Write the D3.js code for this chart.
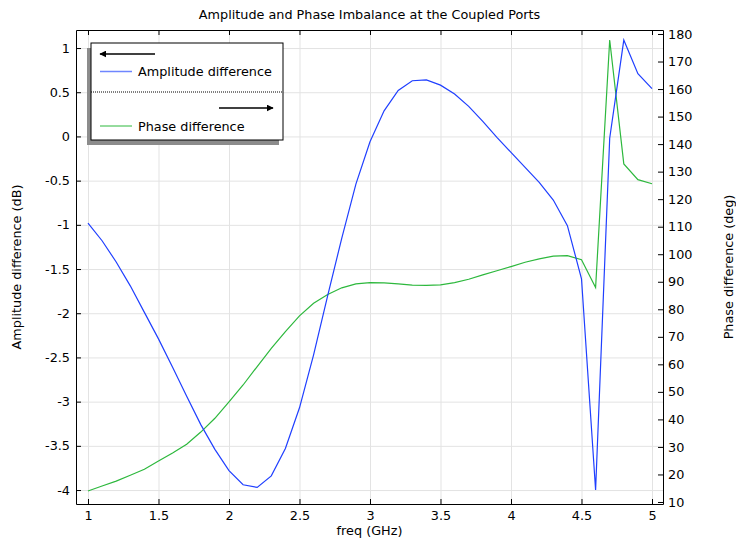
<!DOCTYPE html>
<html>
<head>
<meta charset="utf-8">
<script src="https://cdn.jsdelivr.net/npm/d3@7"></script>
<style>
  body { margin: 0; background: #fff; }
  text { font-family: "DejaVu Sans", sans-serif; fill: #000; }
  .grid line { stroke: #e3e3e3; stroke-width: 1; }
  .grid path { display: none; }
  .axis path, .axis line { stroke: #000; }
  .axis text { font-size: 12.8px; }
</style>
</head>
<body>
<div id="chart"></div>
<script>
//frequency samples (GHz)
var freq = [1.0,1.1,1.2,1.3,1.4,1.5,1.6,1.7,1.8,1.9,2.0,2.1,2.2,2.3,2.4,2.5,2.6,2.7,2.8,2.9,3.0,
            3.1,3.2,3.3,3.4,3.5,3.6,3.7,3.8,3.9,4.0,4.1,4.2,4.3,4.4,4.5,4.6,4.7,4.8,4.9,5.0];

//amplitude difference (dB), left axis
var ampDiff = [-0.98,-1.18,-1.42,-1.69,-1.99,-2.29,-2.61,-2.94,-3.26,-3.54,-3.78,-3.94,-3.97,-3.84,-3.53,-3.07,
               -2.47,-1.80,-1.15,-0.54,-0.06,0.29,0.52,0.63,0.64,0.58,0.48,0.34,0.17,-0.01,-0.18,-0.35,-0.52,
               -0.72,-1.01,-1.61,-4.00,-0.02,1.09,0.71,0.54];

//phase difference (deg), right axis
var phaseDiff = [14.0,15.8,17.6,19.7,21.9,24.9,27.8,31.0,35.4,40.4,46.4,52.5,59.2,65.8,71.9,77.6,
                 82.2,85.4,87.8,89.2,89.7,89.6,89.2,88.8,88.7,88.9,89.7,90.9,92.5,94.0,95.5,97.1,98.3,
                 99.3,99.5,98.0,87.9,177.8,132.8,127.1,125.6];

//tick values
var xTicks = [1,1.5,2,2.5,3,3.5,4,4.5,5];
var ampTicks = [-4,-3.5,-3,-2.5,-2,-1.5,-1,-0.5,0,0.5,1];
var phaseTicks = [10,20,30,40,50,60,70,80,90,100,110,120,130,140,150,160,170,180];

var legendLabels = ["Amplitude difference", "Phase difference"];

(function(){
  var width = 736, height = 541;
  var margin = {left: 76, top: 30, right: 73, bottom: 37};
  var innerW = width - margin.left - margin.right,
      innerH = height - margin.top - margin.bottom;

  var svg = d3.select("#chart").append("svg")
      .attr("width", width)
      .attr("height", height);

  var g = svg.append("g")
      .attr("transform", "translate(" + margin.left + "," + margin.top + ")");

  var x = d3.scaleLinear().domain([0.915, 5.078]).range([0, innerW]);
  var yAmp = d3.scaleLinear().domain([-4.158, 1.204]).range([innerH, 0]);
  var yPhase = d3.scaleLinear().domain([9.27, 181.45]).range([innerH, 0]);

  var fmt = function(d){ return String(d); };

  //grid lines
  g.append("g").attr("class", "grid")
      .attr("transform", "translate(0," + innerH + ")")
      .call(d3.axisBottom(x).tickValues(xTicks).tickSize(-innerH).tickFormat(""));
  g.append("g").attr("class", "grid")
      .call(d3.axisLeft(yAmp).tickValues(ampTicks).tickSize(-innerW).tickFormat(""));

  //curves
  var ampLine = d3.line()
      .x(function(d, i){ return x(freq[i]); })
      .y(function(d){ return yAmp(d); });
  var phaseLine = d3.line()
      .x(function(d, i){ return x(freq[i]); })
      .y(function(d){ return yPhase(d); });

  g.append("path").datum(phaseDiff)
      .attr("d", phaseLine)
      .attr("fill", "none")
      .attr("stroke", "#2db83d")
      .attr("stroke-width", 1.2);
  g.append("path").datum(ampDiff)
      .attr("d", ampLine)
      .attr("fill", "none")
      .attr("stroke", "#1f3fff")
      .attr("stroke-width", 1.2);

  //axes, ticks pointing inward
  g.append("g").attr("class", "axis")
      .attr("transform", "translate(0," + innerH + ")")
      .call(d3.axisBottom(x).tickValues(xTicks).tickSizeInner(-5).tickSizeOuter(0).tickPadding(7).tickFormat(fmt));
  g.append("g").attr("class", "axis")
      .call(d3.axisTop(x).tickValues(xTicks).tickSizeInner(-5).tickSizeOuter(0).tickFormat(""));
  g.append("g").attr("class", "axis")
      .call(d3.axisLeft(yAmp).tickValues(ampTicks).tickSizeInner(-5).tickSizeOuter(0).tickPadding(6).tickFormat(fmt));
  g.append("g").attr("class", "axis")
      .attr("transform", "translate(" + innerW + ",0)")
      .call(d3.axisRight(yPhase).tickValues(phaseTicks).tickSizeInner(-5).tickSizeOuter(0).tickPadding(5).tickFormat(fmt));

  //title and axis labels
  svg.append("text")
      .attr("x", margin.left + innerW / 2)
      .attr("y", 19)
      .attr("text-anchor", "middle")
      .style("font-size", "12.8px")
      .text("Amplitude and Phase Imbalance at the Coupled Ports");
  svg.append("text")
      .attr("x", margin.left + innerW / 2)
      .attr("y", 535)
      .attr("text-anchor", "middle")
      .style("font-size", "12.8px")
      .text("freq (GHz)");
  svg.append("text")
      .attr("transform", "translate(21," + (margin.top + innerH / 2) + ") rotate(-90)")
      .attr("text-anchor", "middle")
      .style("font-size", "12.8px")
      .text("Amplitude difference (dB)");
  svg.append("text")
      .attr("transform", "translate(733," + (margin.top + innerH / 2) + ") rotate(-90)")
      .attr("text-anchor", "middle")
      .style("font-size", "12.8px")
      .text("Phase difference (deg)");

  //legend
  var defs = svg.append("defs");
  defs.append("marker")
      .attr("id", "arrowhead")
      .attr("viewBox", "0 0 10 10")
      .attr("refX", 9).attr("refY", 5)
      .attr("markerWidth", 7).attr("markerHeight", 7)
      .attr("markerUnits", "userSpaceOnUse")
      .attr("orient", "auto-start-reverse")
      .append("path").attr("d", "M0,0 L10,5 L0,10 z").attr("fill", "#000");

  var lg = svg.append("g").attr("transform", "translate(91,43)");
  var lgW = 192, lgH = 97;
  lg.append("rect")
      .attr("x", -4).attr("y", 5)
      .attr("width", lgW).attr("height", lgH)
      .attr("fill", "#8c8c8c");
  lg.append("rect")
      .attr("width", lgW).attr("height", lgH)
      .attr("fill", "#fff")
      .attr("stroke", "#000")
      .attr("stroke-width", 1);

  lg.append("line")
      .attr("x1", 64).attr("x2", 9).attr("y1", 11).attr("y2", 11)
      .attr("stroke", "#000").attr("stroke-width", 1.5)
      .attr("marker-end", "url(#arrowhead)");
  lg.append("line")
      .attr("x1", 128).attr("x2", 182).attr("y1", 65).attr("y2", 65)
      .attr("stroke", "#000").attr("stroke-width", 1.5)
      .attr("marker-end", "url(#arrowhead)");
  lg.append("line")
      .attr("x1", 0).attr("x2", lgW).attr("y1", 49).attr("y2", 49)
      .attr("stroke", "#000").attr("stroke-width", 1)
      .attr("stroke-dasharray", "1,1");

  var colors = ["#6f86ff", "#2db83d"];
  var rowsY = [28.5, 83];
  legendLabels.forEach(function(lbl, i){
    lg.append("line")
        .attr("x1", 9).attr("x2", 41)
        .attr("y1", rowsY[i]).attr("y2", rowsY[i])
        .attr("stroke", colors[i]).attr("stroke-width", i == 0 ? 1.5 : 1);
    lg.append("text")
        .attr("x", 47).attr("y", rowsY[i] + 4.5)
        .style("font-size", "12.8px")
        .text(lbl);
  });
})();
</script>
</body>
</html>
